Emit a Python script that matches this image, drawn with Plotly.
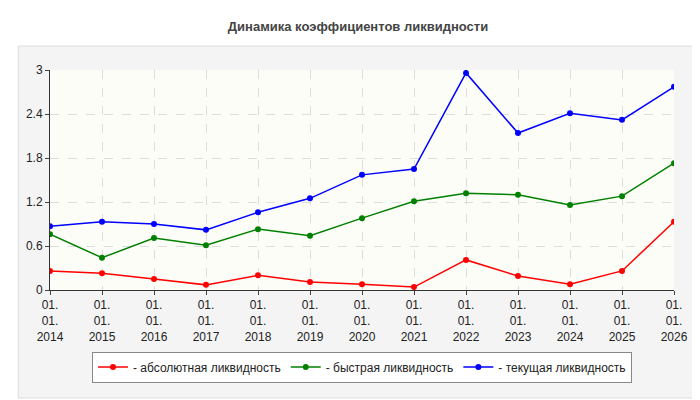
import plotly.graph_objects as go

years = ["2014", "2015", "2016", "2017", "2018", "2019", "2020",
         "2021", "2022", "2023", "2024", "2025", "2026"]
tick_labels = ["01.<br>01.<br>" + y for y in years]

absolute = [0.26, 0.23, 0.15, 0.07, 0.20, 0.11, 0.08, 0.04, 0.41, 0.19, 0.08, 0.26, 0.93]
quick = [0.76, 0.44, 0.71, 0.61, 0.83, 0.74, 0.98, 1.21, 1.32, 1.30, 1.16, 1.28, 1.73]
current = [0.87, 0.93, 0.90, 0.82, 1.06, 1.25, 1.57, 1.65, 2.96, 2.14, 2.41, 2.32, 2.77]

series = [
    ("- абсолютная ликвидность", absolute, "#ff0000"),
    ("- быстрая ликвидность", quick, "#008000"),
    ("- текущая ликвидность", current, "#0000ff"),
]

fig = go.Figure()
for name, vals, col in series:
    fig.add_trace(go.Scatter(
        x=list(range(len(years))), y=vals, name=name, mode="lines+markers",
        line=dict(color=col, width=1.5), marker=dict(color=col, size=6)))

fig.update_layout(
    width=700, height=400,
    margin=dict(l=42, r=34, t=62, b=118, autoexpand=False),
    paper_bgcolor="white", plot_bgcolor="#fdfdf6",
    font=dict(family="Arial, Liberation Sans", size=12, color="#222"),
    title=dict(text="<b>Динамика коэффициентов ликвидности</b>", x=0.5, y=0.965,
               font=dict(size=13, color="#444")),
    showlegend=True,
    legend=dict(orientation="h", x=0.5, xanchor="center", y=-0.28, yanchor="top",
                bordercolor="#888", borderwidth=1, bgcolor="white",
                font=dict(size=12), itemwidth=30),
    shapes=[dict(type="rect", xref="paper", yref="paper",
                 x0=-0.051, x1=1.038, y0=-0.491, y1=1.109,
                 line=dict(color="#dddddd", width=1), fillcolor="#f4f4f4",
                 layer="below"),
            dict(type="rect", xref="paper", yref="paper",
                 x0=0, x1=1, y0=0, y1=1,
                 line=dict(width=0), fillcolor="#fdfdf7", layer="below")],
)
fig.update_xaxes(tickvals=list(range(len(years))), ticktext=tick_labels,
                 range=[0, 12], showgrid=True, gridcolor="#dddddd", griddash="dash",
                 showline=True, linecolor="#333", ticks="outside", ticklen=4,
                 automargin=False)
fig.update_yaxes(range=[0, 3], tickvals=[0, 0.6, 1.2, 1.8, 2.4, 3],
                 showgrid=True, gridcolor="#dddddd", griddash="dash",
                 showline=True, linecolor="#333", ticks="outside", ticklen=4,
                 zeroline=False, automargin=False)

fig.write_html("out.html")
